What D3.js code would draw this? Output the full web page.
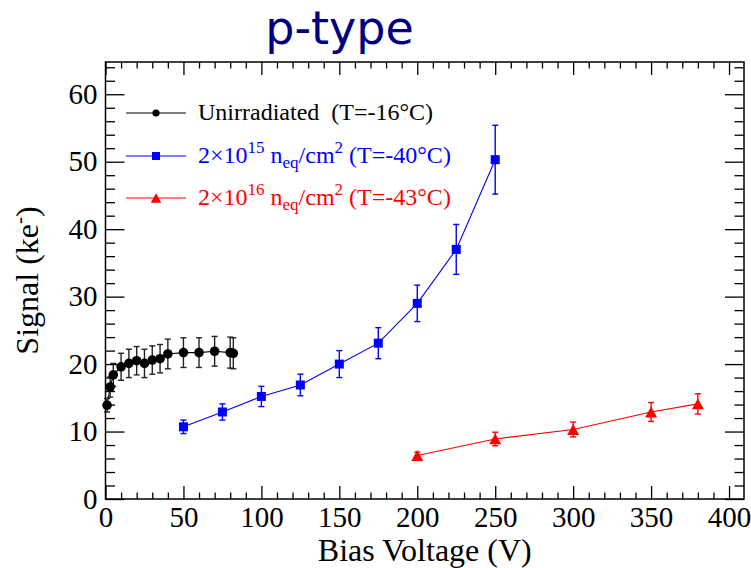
<!DOCTYPE html>
<html>
<head>
<meta charset="utf-8">
<script src="https://cdn.jsdelivr.net/npm/d3@7"></script>
<style>
  html, body { margin: 0; padding: 0; background: #fff; }
  svg { display: block; }
</style>
</head>
<body>
<div id="chart"></div>
<script>
// ---- data ----
const unirrVoltage = [1, 3, 5, 10, 15, 20, 25, 30, 35, 40, 50, 60, 70, 80, 82];
const unirrSignal  = [13.9, 16.6, 18.4, 19.6, 20.1, 20.5, 20.1, 20.6, 20.8, 21.5, 21.7, 21.7, 21.9, 21.7, 21.6];
const unirrError   = [1.0, 1.5, 1.7, 2.0, 2.1, 2.1, 2.1, 2.1, 2.1, 2.2, 2.2, 2.2, 2.2, 2.3, 2.3];

const f15Voltage = [50, 75, 100, 125, 150, 175, 200, 225, 250];
const f15Signal  = [10.7, 12.9, 15.2, 16.9, 20.0, 23.1, 29.0, 37.0, 50.3];
const f15Error   = [1.0, 1.2, 1.5, 1.6, 2.0, 2.3, 2.7, 3.7, 5.1];

const f16Voltage = [200, 250, 300, 350, 380];
const f16Signal  = [6.45, 8.9, 10.3, 12.9, 14.1];
const f16Error   = [0.5, 1.0, 1.1, 1.4, 1.5];

const xMajorTicks = [0, 50, 100, 150, 200, 250, 300, 350, 400];
const yMajorTicks = [0, 10, 20, 30, 40, 50, 60];

(function () {
const W = 751, H = 568;
const svg = d3.select("#chart").append("svg").attr("width", W).attr("height", H);

const pL = 105.5, pR = 744, pT = 62, pB = 499;
const x = d3.scaleLinear().domain([0, 409.6]).range([pL, pR]);
const y = d3.scaleLinear().domain([0, 64.78]).range([pB, pT]);

const serif = "'Liberation Serif', 'Times New Roman', serif";

// frame
svg.append("rect").attr("x", pL).attr("y", pT)
  .attr("width", pR - pL).attr("height", pB - pT)
  .attr("fill", "none").attr("stroke", "#000").attr("stroke-width", 1.5);

const xMinor = d3.range(0, 410, 10).filter(v => v % 50 !== 0);
const yMinor = d3.range(0, 65, 2).filter(v => v % 10 !== 0);

function styleAxis(g) {
  g.select(".domain").remove();
  g.selectAll("line").attr("stroke", "#000").attr("stroke-width", 1.3);
  g.selectAll("text").attr("font-family", serif).attr("font-size", 29).attr("fill", "#000");
}

// bottom axis
svg.append("g").attr("transform", `translate(0,${pB})`)
  .call(d3.axisBottom(x).tickValues(xMajorTicks).tickSize(-13).tickPadding(7).tickFormat(d3.format("d")))
  .call(styleAxis);
svg.append("g").attr("transform", `translate(0,${pB})`)
  .call(d3.axisBottom(x).tickValues(xMinor).tickSize(-6.5).tickFormat(""))
  .call(styleAxis);
// top axis
svg.append("g").attr("transform", `translate(0,${pT})`)
  .call(d3.axisTop(x).tickValues(xMajorTicks).tickSize(-13).tickFormat(""))
  .call(styleAxis);
svg.append("g").attr("transform", `translate(0,${pT})`)
  .call(d3.axisTop(x).tickValues(xMinor).tickSize(-6.5).tickFormat(""))
  .call(styleAxis);
// left axis
svg.append("g").attr("transform", `translate(${pL},0)`)
  .call(d3.axisLeft(y).tickValues(yMajorTicks).tickSize(-19).tickPadding(8).tickFormat(d3.format("d")))
  .call(styleAxis);
svg.append("g").attr("transform", `translate(${pL},0)`)
  .call(d3.axisLeft(y).tickValues(yMinor).tickSize(-9.5).tickFormat(""))
  .call(styleAxis);
// right axis
svg.append("g").attr("transform", `translate(${pR},0)`)
  .call(d3.axisRight(y).tickValues(yMajorTicks).tickSize(-19).tickFormat(""))
  .call(styleAxis);
svg.append("g").attr("transform", `translate(${pR},0)`)
  .call(d3.axisRight(y).tickValues(yMinor).tickSize(-9.5).tickFormat(""))
  .call(styleAxis);

// axis titles
svg.append("text").attr("x", (pL + pR) / 2).attr("y", 561)
  .attr("text-anchor", "middle").attr("font-family", serif).attr("font-size", 32)
  .text("Bias Voltage (V)");

const yt = svg.append("text")
  .attr("transform", `translate(38,${(pT + pB) / 2}) rotate(-90)`)
  .attr("text-anchor", "middle").attr("font-family", serif).attr("font-size", 32);
yt.append("tspan").text("Signal (ke");
yt.append("tspan").attr("dy", -12).attr("font-size", 21).text("-");
yt.append("tspan").attr("dy", 12).text(")");

// title
svg.append("text").attr("x", 339.5).attr("y", 44)
  .attr("text-anchor", "middle").attr("font-family", "'DejaVu Sans', sans-serif")
  .attr("font-size", 46).attr("fill", "#000080").text("p-type");

// series
const series = [
  { vx: unirrVoltage, vy: unirrSignal, ve: unirrError, color: "#000", marker: "circle", size: 4.8 },
  { vx: f15Voltage, vy: f15Signal, ve: f15Error, color: "#0000ff", marker: "square", size: 9 },
  { vx: f16Voltage, vy: f16Signal, ve: f16Error, color: "#ff0000", marker: "triangle", size: 12 }
];

function drawMarker(g, type, cx, cy, s, color) {
  if (type === "circle") {
    g.append("circle").attr("cx", cx).attr("cy", cy).attr("r", s).attr("fill", color);
  } else if (type === "square") {
    g.append("rect").attr("x", cx - s / 2).attr("y", cy - s / 2).attr("width", s).attr("height", s).attr("fill", color);
  } else {
    const h = s * 0.9;
    g.append("path").attr("d", `M${cx - s / 2},${cy + h / 2}L${cx + s / 2},${cy + h / 2}L${cx},${cy - h / 2}Z`).attr("fill", color);
  }
}

series.forEach(sr => {
  const g = svg.append("g");
  const pts = sr.vx.map((v, i) => [v, sr.vy[i], sr.ve[i]]);
  g.append("path").datum(pts)
    .attr("d", d3.line().x(d => x(d[0])).y(d => y(d[1])))
    .attr("fill", "none").attr("stroke", sr.color).attr("stroke-width", 1.1);
  pts.forEach(d => {
    const cx = x(d[0]), y1 = y(d[1] - d[2]), y2 = y(d[1] + d[2]);
    const eg = g.append("g").attr("stroke", sr.color === "#000" ? "#222" : sr.color).attr("stroke-width", 1.4);
    eg.append("line").attr("x1", cx).attr("x2", cx).attr("y1", y1).attr("y2", y2);
    eg.append("line").attr("x1", cx - 3).attr("x2", cx + 3).attr("y1", y1).attr("y2", y1);
    eg.append("line").attr("x1", cx - 3).attr("x2", cx + 3).attr("y1", y2).attr("y2", y2);
  });
  pts.forEach(d => drawMarker(g, sr.marker, x(d[0]), y(d[1]), sr.size, sr.color));
});

// legend
const legendRows = [
  { y: 113, color: "#000", marker: "circle", size: 3.6 },
  { y: 156, color: "#0000ff", marker: "square", size: 8 },
  { y: 198, color: "#ff0000", marker: "triangle", size: 10.5 }
];
legendRows.forEach(r => {
  const g = svg.append("g");
  g.append("line").attr("x1", 126).attr("x2", 186).attr("y1", r.y).attr("y2", r.y)
    .attr("stroke", r.color).attr("stroke-width", 1.1);
  drawMarker(g, r.marker, 156, r.y, r.size, r.color);
});

svg.append("text").attr("x", 198).attr("y", 120).attr("font-family", serif)
  .attr("font-size", 24).attr("fill", "#000")
  .text("Unirradiated\u00a0\u00a0(T=-16°C)");

function fluenceLabel(yb, exp, temp, color) {
  const t = svg.append("text").attr("x", 198).attr("y", yb).attr("font-family", serif)
    .attr("font-size", 24).attr("fill", color);
  t.append("tspan").text("2×10");
  t.append("tspan").attr("dy", -10).attr("font-size", 17).text(exp);
  t.append("tspan").attr("dy", 10).text("\u00a0n");
  t.append("tspan").attr("dy", 5).attr("font-size", 17).text("eq");
  t.append("tspan").attr("dy", -5).text("/cm");
  t.append("tspan").attr("dy", -10).attr("font-size", 17).text("2");
  t.append("tspan").attr("dy", 10).text("\u00a0(T=" + temp + "°C)");
}
fluenceLabel(163, "15", "-40", "#0000ff");
fluenceLabel(205, "16", "-43", "#ff0000");
})();
</script>
</body>
</html>
